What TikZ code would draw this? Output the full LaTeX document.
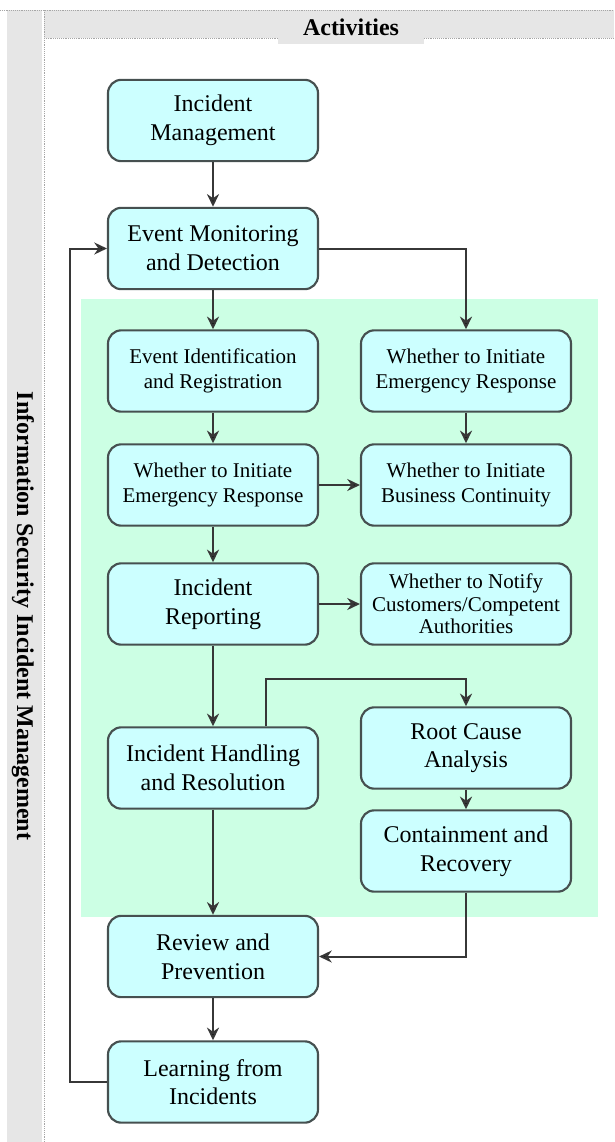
\documentclass[tikz,border=0pt]{standalone}
\usepackage{fontspec}
\setmainfont{Liberation Serif}
\usepackage{tikz}
\usetikzlibrary{positioning,arrows.meta,calc}
\definecolor{boxfill}{RGB}{204,255,255}
\definecolor{boxline}{RGB}{70,80,80}
\definecolor{zonegreen}{RGB}{204,255,228}
\definecolor{bandgray}{RGB}{230,230,230}
\definecolor{linegray}{RGB}{55,55,55}

\begin{document}
\begin{tikzpicture}[x=0.75pt, y=-0.75pt,
        abox/.style={draw=boxline, fill=boxfill, rounded corners=10pt, line width=1.6pt, align=center,
                     minimum width=157.5pt, minimum height=61pt, inner sep=2pt,
                     font=\fontsize{18pt}{21.5pt}\selectfont},
        sabox/.style={abox, font=\fontsize{15.75pt}{18.5pt}\selectfont},
        arr/.style={-{Stealth[length=9.5pt,width=9pt,fill=black]}, line width=1.5pt, draw=linegray},
        title/.style={font=\bfseries\fontsize{18pt}{21pt}\selectfont}
    ]
    \useasboundingbox (0,0) rectangle (614,1142);
    \fill[white] (0,0) rectangle (614,1142);
    \fill[bandgray] (7,10) rectangle (42,1142);
    \fill[bandgray] (44,10) rectangle (614,38);
    \fill[bandgray] (278,10) rectangle (424,44);
    \draw[densely dotted, gray!70] (0,10) -- (614,10);
    \draw[densely dotted, gray!70] (44,10) -- (44,1142);
    \draw[densely dotted, gray!70] (44,38) -- (278,38);
    \draw[densely dotted, gray!70] (424,38) -- (614,38);
    \node[title] (acts) at (351,27) {Activities};
    \node[title, rotate=-90] (lane) at (23,616) {Information Security Incident Management};
    \fill[zonegreen] (81,299) rectangle (598,917);

    \node[abox]  (im)  at (213,120.5) {Incident\\Management};
    \node[abox]  (emd) at (213,248.5) {Event Monitoring\\and Detection};
    \node[sabox] (eir) at (213,371)   {Event Identification\\and Registration};
    \node[sabox] (wer) at (466,371)   {Whether to Initiate\\Emergency Response};
    \node[sabox] (wel) at (213,485)   {Whether to Initiate\\Emergency Response};
    \node[sabox] (wbc) at (466,485)   {Whether to Initiate\\Business Continuity};
    \node[abox]  (ir)  at (213,604)   {Incident\\Reporting};
    \node[sabox, font=\fontsize{15.75pt}{17pt}\selectfont] (wnc) at (466,604) {Whether to Notify\\Customers/Competent\\Authorities};
    \node[abox]  (ihr) at (213,768)   {Incident Handling\\and Resolution};
    \node[abox]  (rca) at (466,748)   {Root Cause\\Analysis};
    \node[abox]  (cr)  at (466,851)   {Containment and\\Recovery};
    \node[abox]  (rp)  at (213,956.5) {Review and\\Prevention};
    \node[abox]  (li)  at (213,1082)  {Learning from\\Incidents};
    \coordinate (split) at (266,679);
    \coordinate (loop) at (70,1082);

    \draw[arr] (im) -- (emd);
    \draw[arr] (emd) -- (eir);
    \draw[arr] (emd.east) -| (wer.north);
    \draw[arr] (eir) -- (wel);
    \draw[arr] (wer) -- (wbc);
    \draw[arr] (wel) -- (wbc);
    \draw[arr] (wel) -- (ir);
    \draw[arr] (ir) -- (wnc);
    \draw[arr] (ir) -- (ihr);
    \draw[arr] (ihr.north -| split) -- (split) -| (rca.north);
    \draw[arr] (rca) -- (cr);
    \draw[arr] (ihr) -- (rp);
    \draw[arr] (cr.south) |- (rp.east);
    \draw[arr] (rp) -- (li);
    \draw[arr] (li.west) -- (loop) |- (emd.west);
    \end{tikzpicture}
\end{document}
